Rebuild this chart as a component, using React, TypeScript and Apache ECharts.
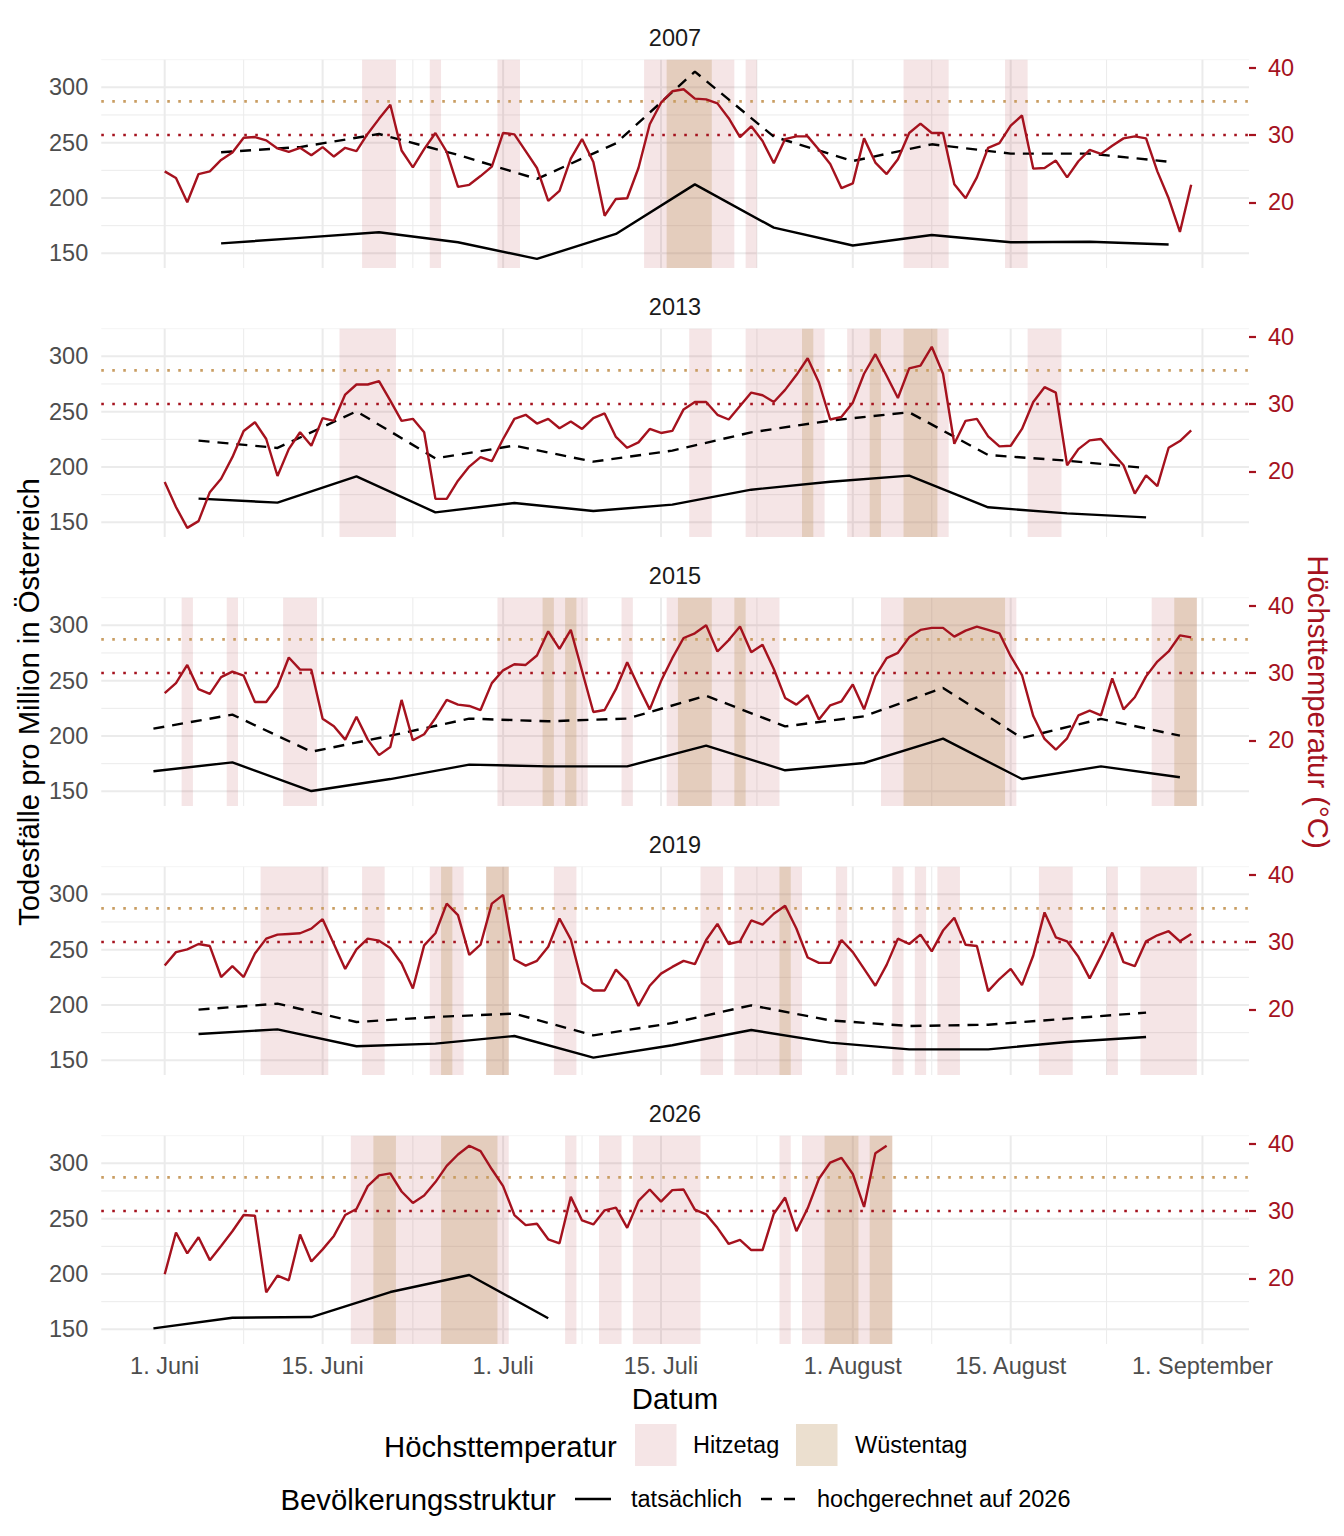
import React, { useEffect, useRef } from "react";
import * as echarts from "echarts";

// ---------- data ----------
const YEARS = ["2007", "2013", "2015", "2019", "2026"];

// daily maximum temperature (°C), day 0 = 1. Juni
const TEMP_2007 = [24.6, 23.6, 20.0, 24.2, 24.6, 26.3, 27.4, 29.6, 29.7, 29.2,
  28.0, 27.5, 28.1, 27.0, 28.2, 26.8, 28.1, 27.6, 30.2, 32.4,
  34.5, 27.7, 25.2, 27.9, 30.3, 27.5, 22.3, 22.6, 23.9, 25.3,
  30.3, 30.1, 27.6, 25.1, 20.2, 21.7, 26.5, 29.4, 26.0, 18.0,
  20.5, 20.6, 25.1, 31.6, 34.8, 36.5, 36.8, 35.4, 35.3, 34.7,
  32.5, 29.7, 31.3, 29.1, 25.8, 29.4, 29.8, 29.8, 27.8, 25.7,
  22.1, 22.8, 29.5, 25.9, 24.2, 26.4, 30.3, 31.7, 30.3, 30.3,
  22.7, 20.6, 23.7, 28.1, 28.8, 31.4, 32.9, 25.0, 25.1, 26.2,
  23.7, 26.1, 27.8, 27.2, 28.4, 29.5, 29.8, 29.5, 24.6, 20.6,
  15.6, 22.6];
const TEMP_2013 = [18.4, 14.7, 11.6, 12.6, 16.9, 18.9, 22.1, 26.0, 27.3, 24.8,
  19.3, 23.3, 25.8, 23.8, 27.9, 27.5, 31.4, 32.9, 32.9, 33.4,
  30.5, 27.5, 27.8, 25.8, 15.9, 15.9, 18.6, 20.7, 22.1, 21.5,
  24.8, 27.8, 28.4, 27.1, 27.8, 26.4, 27.4, 26.3, 27.9, 28.6,
  25.1, 23.5, 24.3, 26.3, 25.7, 26.0, 29.2, 30.3, 30.3, 28.4,
  27.7, 29.7, 31.7, 31.3, 30.3, 32.1, 34.3, 36.8, 33.2, 27.7,
  28.1, 30.2, 34.5, 37.4, 34.2, 30.9, 35.3, 35.7, 38.5, 34.5,
  24.1, 27.5, 27.8, 25.2, 23.7, 23.8, 26.3, 30.3, 32.5, 31.7,
  20.9, 23.3, 24.6, 24.8, 22.8, 20.9, 16.7, 19.4, 17.8, 23.5,
  24.5, 26.1];
const TEMP_2015 = [27.0, 28.5, 31.2, 27.6, 26.9, 29.4, 30.2, 29.6, 25.7, 25.7,
  28.0, 32.3, 30.5, 30.5, 23.2, 22.1, 20.1, 23.5, 20.1, 17.8,
  19.0, 26.0, 20.0, 20.9, 23.3, 26.0, 25.3, 25.1, 24.5, 28.5,
  30.4, 31.3, 31.2, 32.6, 36.2, 33.6, 36.4, 30.3, 24.2, 24.5,
  27.6, 31.6, 28.0, 24.6, 28.8, 32.2, 35.2, 35.9, 37.1, 33.2,
  34.9, 36.9, 33.1, 34.2, 30.6, 26.3, 25.3, 26.7, 23.1, 25.2,
  25.8, 28.3, 24.6, 29.5, 32.2, 33.0, 35.3, 36.4, 36.7, 36.7,
  35.4, 36.3, 36.9, 36.4, 35.9, 32.5, 29.7, 23.6, 20.2, 18.6,
  20.3, 23.7, 24.4, 23.7, 29.2, 24.6, 26.4, 29.5, 31.7, 33.2,
  35.6, 35.3];
const TEMP_2019 = [26.5, 28.5, 28.9, 29.7, 29.4, 24.8, 26.4, 24.8, 28.3, 30.5,
  31.1, 31.2, 31.3, 32.0, 33.4, 29.7, 26.0, 28.9, 30.5, 30.2,
  29.1, 26.8, 23.1, 29.5, 31.3, 35.7, 34.0, 28.1, 29.6, 35.7,
  37.0, 27.4, 26.5, 27.2, 29.3, 33.5, 30.4, 23.9, 22.8, 22.8,
  25.9, 24.2, 20.5, 23.5, 25.3, 26.3, 27.2, 26.7, 30.3, 32.7,
  29.7, 30.1, 33.2, 32.6, 34.2, 35.4, 32.0, 27.7, 26.9, 26.9,
  30.3, 28.5, 26.0, 23.5, 26.6, 30.5, 29.7, 31.1, 28.6, 31.7,
  33.6, 29.6, 29.4, 22.7, 24.5, 26.0, 23.6, 28.0, 34.4, 30.7,
  30.1, 27.8, 24.6, 27.9, 31.4, 27.0, 26.4, 30.1, 31.0, 31.6,
  30.1, 31.2];
const TEMP_2026 = [20.6, 26.8, 23.7, 26.1, 22.7, 24.8, 27.0, 29.4, 29.3, 17.9,
  20.4, 19.7, 26.5, 22.5, 24.3, 26.3, 29.4, 30.3, 33.7, 35.3,
  35.6, 32.9, 31.2, 32.3, 34.3, 36.7, 38.4, 39.7, 38.9, 36.2,
  33.7, 29.4, 27.9, 28.1, 25.8, 25.2, 32.1, 28.6, 28.0, 30.1,
  30.5, 27.5, 31.5, 33.2, 31.4, 33.1, 33.2, 30.2, 29.5, 27.5,
  25.1, 25.7, 24.2, 24.2, 29.6, 32.0, 27.0, 30.4, 34.8, 37.2,
  37.9, 35.5, 30.6, 38.6, 39.7];

// weekly deaths per million (day of week mid-point, actual, projected to 2026)
const WEEK_DAYS_2007 = [5, 12, 19, 26, 33, 40, 47, 54, 61, 68, 75, 82, 89];
const ACTUAL_2007 = [159.0, 164.0, 169.0, 160.0, 145.0, 167.5, 212.3, 173.2, 157.1, 166.6, 160.0, 160.5, 158.0];
const PROJECTED_2007 = [241.3, 246.0, 257.8, 238.9, 217.2, 249.4, 314.2, 255.4, 233.4, 248.5, 240.1, 240.1, 232.8];

const WEEK_DAYS_2013 = [3, 10, 17, 24, 31, 38, 45, 52, 59, 66, 73, 80, 87];
const ACTUAL_2013 = [171.4, 167.8, 191.6, 159.0, 167.5, 160.2, 166.0, 179.5, 186.7, 192.2, 163.6, 158.1, 154.5];
const PROJECTED_2013 = [223.8, 217.2, 250.3, 207.8, 219.3, 204.8, 214.8, 231.3, 241.9, 249.4, 210.8, 205.7, 199.1];

const WEEK_DAYS_2015 = [-1, 6, 13, 20, 27, 34, 41, 48, 55, 62, 69, 76, 83, 90];
const ACTUAL_2015 = [168.1, 176.2, 150.3, 161.1, 174.1, 172.6, 172.6, 191.3, 169.0, 175.6, 197.6, 161.1, 172.6, 162.7];
const PROJECTED_2015 = [206.6, 219.3, 185.8, 200.3, 215.7, 213.3, 215.7, 236.4, 208.7, 217.8, 243.4, 198.2, 215.4, 200.3];

const WEEK_DAYS_2019 = [3, 10, 17, 24, 31, 38, 45, 52, 59, 66, 73, 80, 87];
const ACTUAL_2019 = [173.8, 178.0, 162.7, 165.1, 172.0, 152.4, 163.6, 177.4, 166.0, 159.9, 159.9, 166.6, 171.1];
const PROJECTED_2019 = [195.8, 201.2, 184.6, 189.2, 192.2, 172.6, 183.7, 199.7, 186.1, 181.0, 182.2, 187.7, 193.1];

const WEEK_DAYS_2026 = [-1, 6, 13, 20, 27, 34];
const ACTUAL_2026 = [150.9, 160.5, 161.1, 183.7, 199.1, 160.0];
const PROJECTED_2026: number[] = [];

// axes
const X_TICK_DAYS = [0, 14, 30, 44, 61, 75, 92];
const X_TICK_LABELS = ["1. Juni", "15. Juni", "1. Juli", "15. Juli", "1. August", "15. August", "1. September"];
const X_MINOR_DAYS = [7, 22, 37, 52.5, 68, 83.5];
const Y_MAJOR = [150, 200, 250, 300];
const Y_MINOR = [175, 225, 275, 325];
const TEMP_TICKS = [20, 30, 40];
const HEAT_THRESHOLD = 30;
const DESERT_THRESHOLD = 35;

// ---------- layout / style ----------
const FONT = '"Liberation Sans", Arial, Helvetica, sans-serif';
const RED = "#A5121E";
const TAN_DOT = "#C99D62";
const GREY_TEXT = "#4D4D4D";
const GRID_COLOR = "#EBEBEB";
const HEAT_FILL = "rgba(165,15,30,0.11)";
const DESERT_FILL = "rgba(190,150,95,0.30)";

const GRID_LEFT = 101.25;
const GRID_WIDTH = 1147.75;
const GRID_TOP0 = 59.5;
const GRID_H = 208.5;
const PANEL_STEP = 269;
const X_MIN = -5.625;
const X_MAX = 96.125;
const D_MIN = 136.76;
const D_MAX = 325.11;
const T_MIN = 10.24;
const T_MAX = 41.22;

const PANELS = [
  { year: YEARS[0], temp: TEMP_2007, days: WEEK_DAYS_2007, actual: ACTUAL_2007, projected: PROJECTED_2007 },
  { year: YEARS[1], temp: TEMP_2013, days: WEEK_DAYS_2013, actual: ACTUAL_2013, projected: PROJECTED_2013 },
  { year: YEARS[2], temp: TEMP_2015, days: WEEK_DAYS_2015, actual: ACTUAL_2015, projected: PROJECTED_2015 },
  { year: YEARS[3], temp: TEMP_2019, days: WEEK_DAYS_2019, actual: ACTUAL_2019, projected: PROJECTED_2019 },
  { year: YEARS[4], temp: TEMP_2026, days: WEEK_DAYS_2026, actual: ACTUAL_2026, projected: PROJECTED_2026 },
];

function runs(temps: number[], thr: number): number[][] {
  const out: number[][] = [];
  let start = -1;
  temps.forEach((t, i) => {
    if (t >= thr) {
      if (start < 0) start = i;
    } else if (start >= 0) {
      out.push([start, i - 1]);
      start = -1;
    }
  });
  if (start >= 0) out.push([start, temps.length - 1]);
  return out;
}

const hLine = (w: number, color: string, dash?: number[]) => (params: any, api: any) => {
  const cs = params.coordSys;
  const y = api.coord([0, api.value(1)])[1];
  return {
    type: "line",
    shape: { x1: cs.x, y1: y, x2: cs.x + cs.width, y2: y },
    style: { stroke: color, lineWidth: w, lineDash: dash, fill: null },
  };
};

const vLine = (w: number, color: string) => (params: any, api: any) => {
  const cs = params.coordSys;
  const x = api.coord([api.value(0), 200])[0];
  return {
    type: "line",
    shape: { x1: x, y1: cs.y, x2: x, y2: cs.y + cs.height },
    style: { stroke: color, lineWidth: w, fill: null },
  };
};

const bandRect = (fill: string) => (params: any, api: any) => {
  const cs = params.coordSys;
  const x0 = api.coord([api.value(0) - 0.5, 200])[0];
  const x1 = api.coord([api.value(1) + 0.5, 200])[0];
  return {
    type: "rect",
    shape: { x: x0, y: cs.y, width: x1 - x0, height: cs.height },
    style: { fill },
  };
};

const THRESH_COLORS = [RED, TAN_DOT];
const threshLine = (params: any, api: any) => {
  const cs = params.coordSys;
  const y = api.coord([0, api.value(1)])[1];
  return {
    type: "line",
    shape: { x1: cs.x, y1: y, x2: cs.x + cs.width, y2: y },
    style: { stroke: THRESH_COLORS[params.dataIndex], lineWidth: 2.6, lineDash: [2.6, 8.4], fill: null },
  };
};

function text(t: string, x: number, y: number, size: number, fill: string, align = "left", rotation = 0) {
  return {
    type: "text",
    x,
    y,
    rotation,
    silent: true,
    style: {
      text: t,
      font: `${size}px ${FONT}`,
      fill,
      textAlign: align,
      align,
      textVerticalAlign: "middle",
      verticalAlign: "middle",
    },
  };
}

function buildOption() {
  const grid: any[] = [];
  const xAxis: any[] = [];
  const yAxis: any[] = [];
  const series: any[] = [];

  PANELS.forEach((p, k) => {
    const top = GRID_TOP0 + k * PANEL_STEP;
    grid.push({ left: GRID_LEFT, top, width: GRID_WIDTH, height: GRID_H, containLabel: false, outerBoundsMode: "none" });
    xAxis.push({
      type: "value",
      gridIndex: k,
      min: X_MIN,
      max: X_MAX,
      axisLine: { show: false },
      axisTick: { show: false },
      splitLine: { show: false },
      axisLabel:
        k === PANELS.length - 1
          ? {
              show: true,
              customValues: X_TICK_DAYS,
              formatter: (v: number) => {
                const i = X_TICK_DAYS.indexOf(Number(v));
                return i >= 0 ? X_TICK_LABELS[i] : "";
              },
              color: GREY_TEXT,
              fontSize: 23.5,
              fontFamily: FONT,
              margin: 10,
            }
          : { show: false },
    });
    yAxis.push({
      type: "value",
      gridIndex: k,
      position: "left",
      min: D_MIN,
      max: D_MAX,
      axisLine: { show: false },
      axisTick: { show: false },
      splitLine: { show: false },
      axisLabel: {
        customValues: Y_MAJOR,
        color: GREY_TEXT,
        fontSize: 23.5,
        fontFamily: FONT,
        margin: 13,
      },
    });
    yAxis.push({
      type: "value",
      gridIndex: k,
      position: "right",
      min: T_MIN,
      max: T_MAX,
      axisLine: { show: false },
      axisTick: { show: true, customValues: TEMP_TICKS, length: 7, lineStyle: { color: RED, width: 2.2 } },
      splitLine: { show: false },
      axisLabel: {
        customValues: TEMP_TICKS,
        color: RED,
        fontSize: 23.5,
        fontFamily: FONT,
        margin: 19,
      },
    });

    const xi = k;
    const yl = 2 * k;
    const yr = 2 * k + 1;
    const common = { xAxisIndex: xi, silent: true, animation: false, clip: true };

    series.push({ ...common, type: "custom", yAxisIndex: yl, z: 1, data: Y_MINOR.map((v) => [0, v]), renderItem: hLine(1, GRID_COLOR) });
    series.push({ ...common, type: "custom", yAxisIndex: yl, z: 1, data: X_MINOR_DAYS.map((d) => [d, 200]), renderItem: vLine(1, GRID_COLOR) });
    series.push({ ...common, type: "custom", yAxisIndex: yl, z: 1, data: Y_MAJOR.map((v) => [0, v]), renderItem: hLine(2, GRID_COLOR) });
    series.push({ ...common, type: "custom", yAxisIndex: yl, z: 1, data: X_TICK_DAYS.map((d) => [d, 200]), renderItem: vLine(2, GRID_COLOR) });

    series.push({ ...common, type: "custom", yAxisIndex: yl, z: 2, data: runs(p.temp, HEAT_THRESHOLD), renderItem: bandRect(HEAT_FILL) });
    series.push({ ...common, type: "custom", yAxisIndex: yl, z: 3, data: runs(p.temp, DESERT_THRESHOLD), renderItem: bandRect(DESERT_FILL) });

    series.push({ ...common, type: "custom", yAxisIndex: yr, z: 4, data: [[0, HEAT_THRESHOLD], [0, DESERT_THRESHOLD]], renderItem: threshLine });

    series.push({
      ...common,
      type: "line",
      yAxisIndex: yl,
      z: 5,
      data: p.days.map((d, i) => [d, p.actual[i]]),
      showSymbol: false,
      symbol: "none",
      lineStyle: { color: "#000", width: 2.4 },
      itemStyle: { color: "#000" },
    });
    if (p.projected.length) {
      series.push({
        ...common,
        type: "line",
        yAxisIndex: yl,
        z: 5,
        data: p.days.map((d, i) => [d, p.projected[i]]),
        showSymbol: false,
        symbol: "none",
        lineStyle: { color: "#000", width: 2.4, type: [11, 8], cap: "butt" },
        itemStyle: { color: "#000" },
      });
    }
    series.push({
      ...common,
      type: "line",
      yAxisIndex: yr,
      z: 6,
      data: p.temp.map((t, i) => [i, t]),
      showSymbol: false,
      symbol: "none",
      lineStyle: { color: RED, width: 2.4 },
      itemStyle: { color: RED },
    });
  });

  const graphic: any[] = [];
  PANELS.forEach((p, k) => {
    graphic.push(text(p.year, 675, 38 + k * PANEL_STEP, 23.5, "#1A1A1A", "center"));
  });
  graphic.push(text("Todesfälle pro Million in Österreich", 28, 702, 29.3, "#000", "center", Math.PI / 2));
  graphic.push(text("Höchsttemperatur (°C)", 1318, 702, 29.3, RED, "center", -Math.PI / 2));
  graphic.push(text("Datum", 675, 1398, 29.3, "#000", "center"));

  // legend row 1
  graphic.push(text("Höchsttemperatur", 384, 1446, 29.3, "#000", "left"));
  graphic.push({ type: "rect", silent: true, shape: { x: 635, y: 1424, width: 41.5, height: 42 }, style: { fill: HEAT_FILL } });
  graphic.push(text("Hitzetag", 693, 1445, 23.5, "#000", "left"));
  graphic.push({ type: "rect", silent: true, shape: { x: 796, y: 1424, width: 41.5, height: 42 }, style: { fill: DESERT_FILL } });
  graphic.push(text("Wüstentag", 855, 1445, 23.5, "#000", "left"));

  // legend row 2
  graphic.push(text("Bevölkerungsstruktur", 280.5, 1499, 29.3, "#000", "left"));
  graphic.push({ type: "line", silent: true, shape: { x1: 575, y1: 1499, x2: 611, y2: 1499 }, style: { stroke: "#000", lineWidth: 2.4 } });
  graphic.push(text("tatsächlich", 631, 1499, 23.5, "#000", "left"));
  graphic.push({ type: "line", silent: true, shape: { x1: 761, y1: 1499, x2: 795, y2: 1499 }, style: { stroke: "#000", lineWidth: 2.4, lineDash: [11, 12] } });
  graphic.push(text("hochgerechnet auf 2026", 817, 1499, 23.5, "#000", "left"));

  return {
    animation: false,
    backgroundColor: "#FFFFFF",
    textStyle: { fontFamily: FONT },
    grid,
    xAxis,
    yAxis,
    series,
    graphic,
  };
}

export default function App() {
  const ref = useRef<HTMLDivElement>(null);
  useEffect(() => {
    const chart = echarts.init(ref.current as HTMLDivElement, null, { renderer: "svg" });
    chart.setOption(buildOption() as any);
    return () => chart.dispose();
  }, []);
  return (
    <div
      ref={ref}
      style={{ position: "absolute", left: 0, top: 0, width: 1344, height: 1536, background: "#fff" }}
    />
  );
}
